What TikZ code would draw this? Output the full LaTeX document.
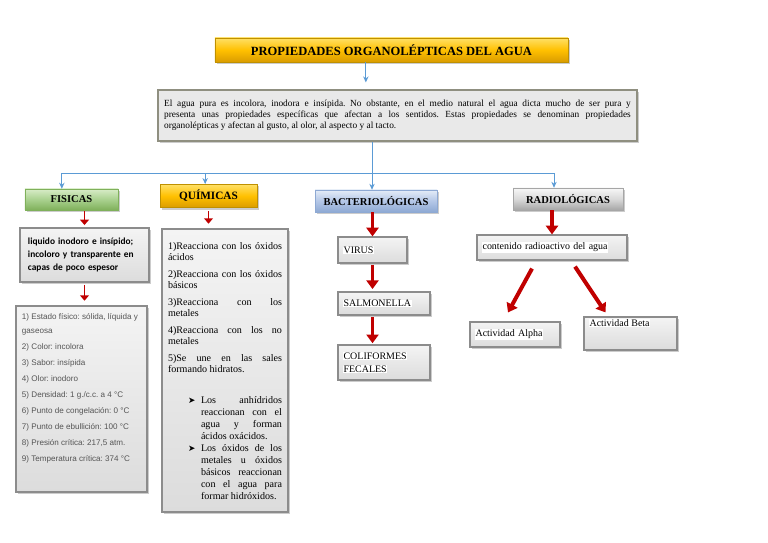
\documentclass[tikz,border=0pt]{standalone}
\usepackage{fontspec}
\setmainfont{Liberation Serif}
\newfontfamily\arialfont{Liberation Sans}
\newfontfamily\calibrifont{Carlito}
\newfontfamily\symfont{DejaVu Sans}
\usetikzlibrary{arrows.meta, calc, shadows}
\frenchspacing

\definecolor{lineblue}{HTML}{5B9BD5}
\definecolor{arrowred}{HTML}{C00000}
\definecolor{goldtop}{HTML}{FFE066}
\definecolor{goldmid}{HTML}{FFC000}
\definecolor{goldbot}{HTML}{DA9C00}
\definecolor{goldline}{HTML}{BF9000}
\definecolor{greentop}{HTML}{D8ECC8}
\definecolor{greenmid}{HTML}{A9D18E}
\definecolor{greenbot}{HTML}{7FB05A}
\definecolor{bluetop}{HTML}{E4ECF7}
\definecolor{bluemid}{HTML}{B4C7E7}
\definecolor{bluebot}{HTML}{8EA9D3}
\definecolor{greytop}{HTML}{F7F7F7}
\definecolor{greymid}{HTML}{D9D9D9}
\definecolor{greybot}{HTML}{A6A6A6}
\definecolor{boxtop}{HTML}{F4F4F4}
\definecolor{boxbot}{HTML}{DCDCDC}
\definecolor{boxline}{HTML}{8C8C8C}
\definecolor{introfill}{HTML}{E9E9E9}
\definecolor{introline}{HTML}{8F8F80}
\definecolor{textgray}{HTML}{555555}

\newcommand\whitebg[1]{{\setlength{\fboxsep}{0.5pt}\colorbox{white}{#1}}}
\newcommand\flecha{\par\hangindent=0.99cm\hangafter=0\noindent\llap{\makebox[0.39cm][l]{\symfont\fontsize{7.5}{7.5}\selectfont ➤}}}

\begin{document}
\begin{tikzpicture}[x=0.03cm, y=-0.03cm,
    boxshadow/.style={drop shadow={shadow xshift=1.6pt, shadow yshift=-1.6pt, opacity=0.4}},
    greybox/.style={boxshadow, draw=boxline, line width=1pt, top color=boxtop, bottom color=boxbot, inner xsep=0.15cm, inner ysep=0.08cm, align=left, font=\fontsize{8.5}{11}\selectfont},
    header/.style={boxshadow, line width=0.4pt, inner sep=0pt, minimum height=0.66cm, font=\bfseries\fontsize{9}{11}\selectfont},
    blueline/.style={draw=lineblue, line width=0.8pt},
    bluearrow/.style={blueline, -{Stealth[length=1.8mm, width=1.6mm]}},
    redthin/.style={draw=arrowred, line width=1.5pt, -{Triangle[length=1.6mm, width=2.6mm]}},
    redthick/.style={draw=arrowred, line width=2.6pt, -{Triangle[length=2.6mm, width=3.6mm]}}]

  \useasboundingbox[fill=white] (0,0) rectangle (768,543);

  % title and introduction
  \node[header, draw=goldline, top color=goldtop, bottom color=goldbot, middle color=goldmid, minimum width=10.59cm, minimum height=0.72cm, font=\bfseries\fontsize{10.7}{12}\selectfont] (title) at (391.5,50) {PROPIEDADES ORGANOLÉPTICAS DEL AGUA};
  \node[boxshadow, draw=introline, line width=1.5pt, fill=introfill, text width=14.0cm, inner xsep=0.185cm, minimum height=1.53cm, align=justify, font=\fontsize{8}{9.4}\selectfont] (intro) at (397.5,115.5) {El agua pura es incolora, inodora e insípida. No obstante, en el medio natural el agua dicta mucho de ser pura y\linebreak presenta unas propiedades específicas que afectan a los sentidos. Estas propiedades se denominan propiedades\linebreak organolépticas y afectan al gusto, al olor, al aspecto y al tacto.};

  % the four groups
  \node[header, draw=greenbot, top color=greentop, bottom color=greenbot, middle color=greenmid, minimum width=2.79cm, minimum height=0.63cm] (fisicas) at (71.5,199.5) {FISICAS};
  \node[header, draw=goldline, top color=goldtop, bottom color=goldbot, middle color=goldmid, minimum width=2.91cm, minimum height=0.7cm, font=\bfseries\fontsize{9.6}{11}\selectfont] (quimicas) at (208.5,196) {QUÍMICAS};
  \node[header, draw=bluebot, top color=bluetop, bottom color=bluebot, middle color=bluemid, minimum width=3.66cm] (bacterias) at (376,201) {BACTERIOLÓGICAS};
  \node[header, draw=greybot, top color=greytop, bottom color=greybot, middle color=greymid, minimum width=3.3cm] (radio) at (568,199) {RADIOLÓGICAS};

  % fisicas
  \node[greybox, text width=3.39cm, inner xsep=0.24cm, minimum height=1.62cm, font=\calibrifont\bfseries\fontsize{8}{11.3}\selectfont] (liquido) at (84.5,255) {liquido inodoro e insípido;\\incoloro y transparente en\\capas de poco espesor};
  \node[greybox, inner xsep=0.18cm, inner ysep=0.1cm] (estado) at (81.5,399) {\parbox[c][5.38cm][t]{3.57cm}{\arialfont\fontsize{6.9}{11.9}\selectfont\color{textgray}\setlength{\parskip}{1.7pt}\raggedright
    \vspace*{2pt}1) Estado físico: sólida, líquida y\newline gaseosa\par
    2) Color: incolora\par
    3) Sabor: insípida\par
    4) Olor: inodoro\par
    5) Densidad: 1 g./c.c. a 4 °C\par
    6) Punto de congelación: 0 °C\par
    7) Punto de ebullición: 100 °C\par
    8) Presión crítica: 217,5 atm.\par
    9) Temperatura crítica: 374 °C\par}};

  % quimicas
  \node[greybox, inner xsep=0.18cm, inner ysep=0.18cm] (reacciones) at (225,370.5) {\parbox[c][8.13cm][t]{3.42cm}{\fontsize{8.6}{9.2}\selectfont\setlength{\parskip}{5.5pt}\sloppy\hyphenpenalty=10000
    \vspace*{1pt}1)Reacciona con los óxidos\linebreak ácidos\par
    2)Reacciona con los óxidos\linebreak básicos\par
    3)Reacciona con los\linebreak metales\par
    4)Reacciona con los no\linebreak metales\par
    5)Se une en las sales\linebreak formando hidratos.\par
    \vspace{16pt}\fontsize{8.6}{10.3}\selectfont\setlength{\parskip}{0pt}%
    \flecha Los anhídridos\linebreak reaccionan con el\linebreak agua y forman\linebreak ácidos oxácidos.\par
    \flecha Los óxidos de los\linebreak metales u óxidos\linebreak básicos reaccionan\linebreak con el agua para\linebreak formar hidróxidos.\par}};

  % bacteriologicas
  \node[greybox, text width=1.77cm, minimum height=0.78cm] (virus) at (372.5,250) {\whitebg{VIRUS}};
  \node[greybox, text width=2.46cm, minimum height=0.69cm] (salmonella) at (384,303.5) {\whitebg{SALMONELLA}};
  \node[greybox, text width=2.46cm, minimum height=1.05cm] (coliformes) at (384,362.5) {\whitebg{COLIFORMES}\\\whitebg{FECALES}};

  % radiologicas
  \node[greybox, text width=4.2cm, minimum height=0.75cm] (contenido) at (552,247.5) {\whitebg{contenido radioactivo del agua}};
  \node[greybox, text width=2.4cm, minimum height=0.75cm] (alpha) at (515,334.5) {\whitebg{Actividad Alpha}};
  \node[greybox, inner ysep=0.05cm] (beta) at (630.5,333.5) {\parbox[c][0.89cm][t]{2.49cm}{\whitebg{Actividad Beta}}};

  % blue connectors
  \coordinate (split) at (372,173);
  \draw[bluearrow, shorten >=0.2cm] ([xshift=-0.77cm]title.south) -- ([xshift=-0.77cm]title.south |- intro.north);
  \draw[blueline] (split |- intro.south) -- (split);
  \draw[bluearrow] (split) -| ([xshift=-0.29cm]fisicas.north);
  \draw[bluearrow] (split) -| ([xshift=-0.1cm]quimicas.north);
  \draw[bluearrow] (split) -- (split |- bacterias.north);
  \draw[bluearrow] (split) -| ([xshift=-0.42cm]radio.north);

  % red arrows
  \draw[redthin, shorten <=1pt, shorten >=2pt] (fisicas.south -| liquido.north) -- (liquido.north);
  \draw[redthin, shorten <=2pt, shorten >=4pt] (liquido.south) -- (liquido.south |- estado.north);
  \draw[redthin, shorten <=3pt, shorten >=4pt] (quimicas.south) -- (quimicas.south |- reacciones.north);
  \draw[redthick] (virus.north |- bacterias.south) -- (virus.north);
  \draw[redthick, shorten <=1pt, shorten >=2pt] (virus.south) -- (virus.south |- salmonella.north);
  \draw[redthick, shorten <=1pt, shorten >=1pt] (virus.south |- salmonella.south) -- (virus.south |- coliformes.north);
  \draw[redthick] (contenido.north |- radio.south) -- (contenido.north);
  \draw[redthick, line width=3.4pt] ($(contenido.south)+(-20,8)$) -- ($(alpha.north)+(-7,-9)$);
  \draw[redthick, line width=3.4pt] ($(contenido.south)+(23,6)$) -- ($(beta.north)+(-25,-4)$);
\end{tikzpicture}
\end{document}
